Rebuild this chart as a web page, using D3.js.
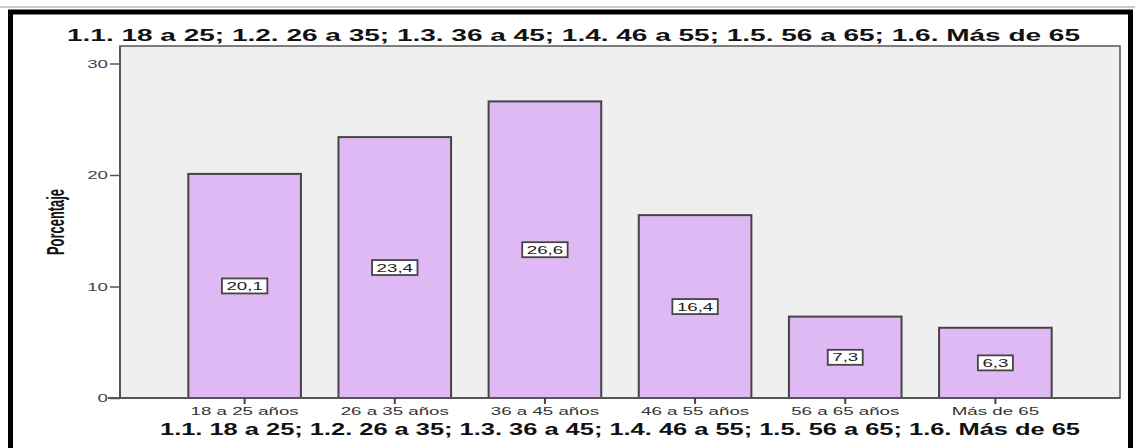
<!DOCTYPE html>
<html>
<head>
<meta charset="utf-8">
<script src="https://cdn.jsdelivr.net/npm/d3@7/dist/d3.min.js"></script>
<style>
  html, body { margin: 0; padding: 0; background: #fff; }
  svg { display: block; }
</style>
</head>
<body>
<svg id="chart" width="1135" height="448"></svg>
<script>
// Age groups and their share of respondents (%)
const categories = ["18 a 25 años", "26 a 35 años", "36 a 45 años", "46 a 55 años", "56 a 65 años", "Más de 65"];
const values = [20.1, 23.4, 26.6, 16.4, 7.3, 6.3];
const yTicks = [0, 10, 20, 30];
const titleText = "1.1. 18 a 25; 1.2. 26 a 35; 1.3. 36 a 45; 1.4. 46 a 55; 1.5. 56 a 65; 1.6. Más de 65";
const yLabel = "Porcentaje";

const svg = d3.select("#chart");
const W = 1135;
const plot = { left: 120, top: 46, right: 1120, bottom: 398 };
const FONT = "Liberation Sans, Arial, sans-serif";
const WIDE = 1.7; // horizontal stretch of the small labels

// Widen text horizontally by a factor, keeping its anchor
function widen(sel, f) {
  sel.each(function () {
    const n = this.getComputedTextLength();
    d3.select(this).attr("textLength", n * f).attr("lengthAdjust", "spacingAndGlyphs");
  });
}

// Outer frame
svg.append("line").attr("x1", 0).attr("x2", W).attr("y1", 7).attr("y2", 7)
  .attr("stroke", "#9a9a9a").attr("stroke-width", 1);
svg.append("rect").attr("x", 10.5).attr("y", 12).attr("width", 1120).attr("height", 460)
  .attr("fill", "#fff").attr("stroke", "#000").attr("stroke-width", 5);

const x = d3.scaleBand().domain(categories)
  .range([plot.left, plot.right]).paddingInner(0.25).paddingOuter(0.455);
const y = d3.scaleLinear().domain([0, 30]).range([plot.bottom, 63.5]);

// Plot background
svg.append("rect")
  .attr("x", plot.left).attr("y", plot.top)
  .attr("width", plot.right - plot.left).attr("height", plot.bottom - plot.top)
  .attr("fill", "#efefef").attr("stroke", "#555").attr("stroke-width", 1.5);

// Bars
svg.append("g").selectAll("rect").data(values).join("rect")
  .attr("x", (d, i) => x(categories[i]))
  .attr("y", d => y(d))
  .attr("width", x.bandwidth())
  .attr("height", d => y(0) - y(d))
  .attr("fill", "#dfb9f3")
  .attr("stroke", "#444")
  .attr("stroke-width", 2);

// Value labels in boxes at mid-height
const lab = svg.append("g").selectAll("g").data(values).join("g")
  .attr("transform", (d, i) => `translate(${x(categories[i]) + x.bandwidth() / 2},${y(d / 2)})`);
const labText = lab.append("text")
  .attr("text-anchor", "middle").attr("dy", "0.36em")
  .attr("font-family", FONT)
  .attr("font-size", 11).attr("fill", "#222")
  .text(d => String(d).replace(".", ","));
widen(labText, WIDE);
lab.insert("rect", "text")
  .each(function () {
    const t = d3.select(this.parentNode).select("text");
    const w = +t.attr("textLength") + 9;
    d3.select(this).attr("x", -w / 2).attr("width", w);
  })
  .attr("y", -7.5).attr("height", 15)
  .attr("fill", "#fff").attr("stroke", "#444").attr("stroke-width", 1.8);

// Y axis
const yAxis = d3.axisLeft(y).tickValues(yTicks).tickSize(10).tickPadding(2);
const gy = svg.append("g").attr("transform", `translate(${plot.left},0)`).call(yAxis);
gy.select(".domain").attr("stroke", "#555").attr("stroke-width", 2)
  .attr("d", `M0,${plot.top}V${plot.bottom}`);
gy.selectAll(".tick line").attr("stroke", "#555").attr("stroke-width", 1.5);
gy.selectAll(".tick text").attr("font-family", FONT)
  .attr("font-size", 11).attr("fill", "#444");
widen(gy.selectAll(".tick text"), WIDE);

// X axis
const xAxis = d3.axisBottom(x).tickSize(6).tickPadding(3);
const gx = svg.append("g").attr("transform", `translate(0,${plot.bottom})`).call(xAxis);
gx.select(".domain").attr("stroke", "#555").attr("stroke-width", 2)
  .attr("d", `M${plot.left - 12},0H${plot.right}`);
gx.selectAll(".tick line").attr("stroke", "#444").attr("stroke-width", 2);
gx.selectAll(".tick text").attr("font-family", FONT)
  .attr("font-size", 11).attr("fill", "#333");
widen(gx.selectAll(".tick text"), WIDE);

// Y axis title (narrow bold, vertical)
svg.append("text")
  .attr("transform", "translate(64,222) rotate(-90) scale(1,1.45)")
  .attr("text-anchor", "middle")
  .attr("textLength", 66).attr("lengthAdjust", "spacingAndGlyphs")
  .attr("font-family", "Liberation Sans Narrow, Arial Narrow, sans-serif")
  .attr("font-weight", "bold").attr("font-size", 16).attr("fill", "#111")
  .text(yLabel);

// Top and bottom titles
svg.append("text")
  .attr("x", 67).attr("y", 41)
  .attr("textLength", 1013).attr("lengthAdjust", "spacingAndGlyphs")
  .attr("font-family", FONT)
  .attr("font-weight", "bold").attr("font-size", 17).attr("fill", "#111")
  .text(titleText);
svg.append("text")
  .attr("x", 160).attr("y", 435)
  .attr("textLength", 920).attr("lengthAdjust", "spacingAndGlyphs")
  .attr("font-family", FONT)
  .attr("font-weight", "bold").attr("font-size", 16).attr("fill", "#111")
  .text(titleText);
</script>
</body>
</html>
